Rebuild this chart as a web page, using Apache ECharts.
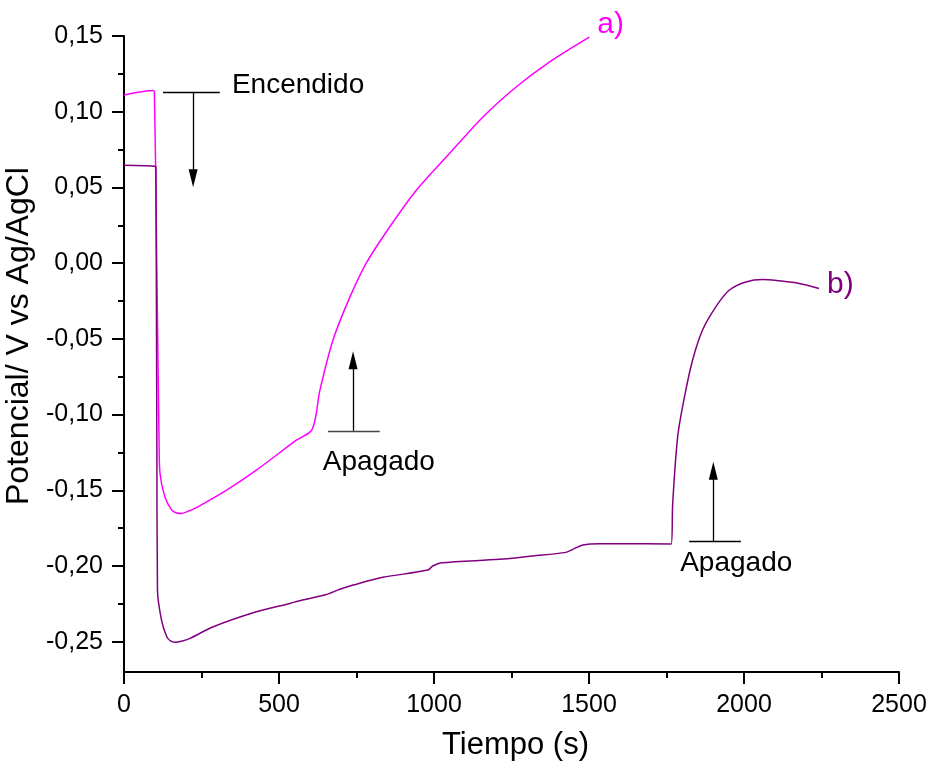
<!DOCTYPE html>
<html>
<head>
<meta charset="utf-8">
<script src="https://cdn.jsdelivr.net/npm/echarts@6/dist/echarts.min.js"></script>
<style>
html,body{margin:0;padding:0;background:#fff;}
#chart{width:931px;height:772px;}
</style>
</head>
<body>
<div id="chart"></div>
<script>
// curva a) (magenta)
var tA = [0, 94, 98, 104, 113, 116, 132, 154, 170, 184, 205, 238, 331, 427, 556, 607, 632, 674, 729, 782, 857, 943, 1050, 1158, 1265, 1372, 1501];
var vA = [0.111, 0.114, 0.113, 0.028, -0.117, -0.1386, -0.1545, -0.1631, -0.1650, -0.1653, -0.1640, -0.1609, -0.1499, -0.1367, -0.1169, -0.1098, -0.0839, -0.0509, -0.0223, 0.0002, 0.0239, 0.0482, 0.0724, 0.0965, 0.1163, 0.1328, 0.1493];
// curva b) (morado)
var tB = [0, 102, 103, 106, 108, 121, 138, 150, 164, 185, 213, 288, 427, 535, 567, 650, 696, 739, 835, 980, 996, 1024, 1211, 1319, 1426, 1448, 1480, 1534, 1620, 1765, 1770, 1786, 1808, 1834, 1866, 1909, 1952, 2006, 2060, 2113, 2178, 2242];
var vB = [0.0647, 0.0640, 0.0630, -0.117, -0.2159, -0.2357, -0.2467, -0.2495, -0.2504, -0.2497, -0.2478, -0.2401, -0.2302, -0.2247, -0.2229, -0.2190, -0.2154, -0.2126, -0.2075, -0.2027, -0.2000, -0.1979, -0.1956, -0.1934, -0.1910, -0.1890, -0.1862, -0.1853, -0.1853, -0.1855, -0.1587, -0.1147, -0.0883, -0.0641, -0.0443, -0.0289, -0.0179, -0.0124, -0.0108, -0.0117, -0.0134, -0.0167];
// ticks eje y
var yMajor = [-0.25, -0.20, -0.15, -0.10, -0.05, 0.00, 0.05, 0.10, 0.15];
var yMinor = [-0.225, -0.175, -0.125, -0.075, -0.025, 0.025, 0.075, 0.125];

function pares(t, v){
	var out = [];
	for(var i = 0; i < t.length; i++){
		out.push([t[i], v[i]]);
	}
	return out;
}

var fuente = 'Liberation Sans, Arial, sans-serif';
var chart = echarts.init(document.getElementById('chart'));

var option = {
	animation: false,
	backgroundColor: '#fff',
	grid: {left: 124, right: 32, top: 36, bottom: 100, containLabel: false, outerBoundsMode: 'none'},
	xAxis: {
		type: 'value', min: 0, max: 2500, interval: 500,
		name: 'Tiempo (s)', nameLocation: 'middle', nameGap: 58,
		nameTextStyle: {fontFamily: fuente, fontSize: 31, color: '#000', padding: [0, 0, 0, 8]},
		axisLine: {show: true, onZero: false, lineStyle: {color: '#000', width: 2}},
		axisTick: {show: true, inside: false, length: 12, lineStyle: {color: '#000', width: 2}},
		minorTick: {show: true, splitNumber: 2, length: 6, lineStyle: {color: '#000', width: 2}},
		axisLabel: {fontFamily: fuente, fontSize: 25, color: '#000', margin: 21, formatter: function(v){ return String(v); }},
		splitLine: {show: false}
	},
	yAxis: [{
		type: 'value', min: -0.27, max: 0.15,
		name: 'Potencial/ V vs Ag/AgCl', nameLocation: 'middle', nameGap: 82,
		nameTextStyle: {fontFamily: fuente, fontSize: 32, color: '#000', padding: [0, 0, 0, 36]},
		axisLine: {show: true, onZero: false, lineStyle: {color: '#000', width: 2}},
		axisTick: {show: true, inside: false, length: 12, customValues: yMajor, lineStyle: {color: '#000', width: 2}},
		axisLabel: {
			fontFamily: fuente, fontSize: 25, color: '#000', margin: 21,
			customValues: yMajor,
			formatter: function(v){
				var s = (Math.abs(v) < 1e-9 ? 0 : v).toFixed(2);
				return s.replace('.', ',');
			}
		},
		splitLine: {show: false}
	}, {
		type: 'value', min: -0.27, max: 0.15, position: 'left',
		axisLine: {show: false},
		axisTick: {show: true, inside: false, length: 6, customValues: yMinor, lineStyle: {color: '#000', width: 2}},
		axisLabel: {show: false},
		splitLine: {show: false}
	}],
	series: [{
		name: 'a)', type: 'line', data: pares(tA, vA), showSymbol: false,
		smooth: 0.3,
		lineStyle: {color: '#ff00ff', width: 1.5},
		endLabel: {show: true, formatter: 'a)', color: '#ff00ff', fontFamily: fuente, fontSize: 30, offset: [0, -12]}
	}, {
		name: 'b)', type: 'line', data: pares(tB, vB), showSymbol: false,
		smooth: 0.3,
		lineStyle: {color: '#800080', width: 1.5},
		endLabel: {show: true, formatter: 'b)', color: '#800080', fontFamily: fuente, fontSize: 30, offset: [0, -4]}
	}, {
		// anotaciones
		name: 'notas', type: 'line', data: [], silent: true,
		markLine: {
			silent: true, animation: false,
			label: {show: false},
			lineStyle: {color: '#000', width: 1.3, type: 'solid'},
			symbol: ['none', 'none'],
			data: [
				[{coord: [126, 0.1126]}, {coord: [309, 0.1126]}],
				[{coord: [223, 0.1126]}, {coord: [223, 0.0561], symbol: 'triangle', symbolSize: [9, 18]}],
				[{coord: [658, -0.1107], lineStyle: {color: '#444'}}, {coord: [825, -0.1107]}],
				[{coord: [739, -0.1107]}, {coord: [739, -0.0641], symbol: 'triangle', symbolSize: [9, 18]}],
				[{coord: [1823, -0.1835]}, {coord: [1990, -0.1835]}],
				[{coord: [1901, -0.1835]}, {coord: [1901, -0.1371], symbol: 'triangle', symbolSize: [9, 18]}]
			]
		},
		markPoint: {
			silent: true, symbol: 'circle', symbolSize: 0,
			label: {show: true, formatter: '{b}', fontFamily: fuente, fontSize: 28, color: '#000'},
			data: [
				{name: 'Encendido', coord: [348, 0.1175], label: {position: 'right', distance: 0}},
				{name: 'Apagado', coord: [822, -0.1312], label: {position: 'inside'}},
				{name: 'Apagado', coord: [1975, -0.198], label: {position: 'inside'}}
			]
		}
	}]
};
chart.setOption(option);
</script>
</body>
</html>
